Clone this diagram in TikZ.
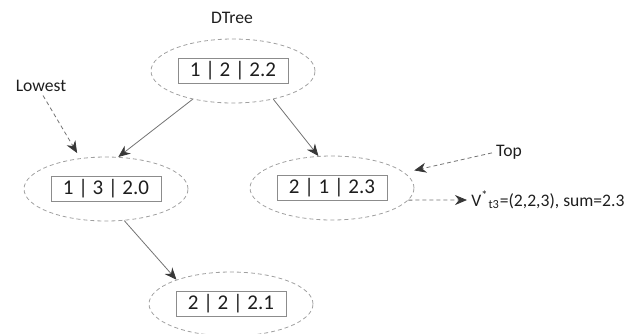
\documentclass[tikz,border=0pt]{standalone}
\usepackage{fontspec}
\setmainfont{Carlito}
\usepackage{xcolor}
\usetikzlibrary{shapes.geometric, arrows.meta, positioning}
\definecolor{dashgray}{RGB}{160,160,160}
\definecolor{boxgray}{RGB}{140,140,140}
\definecolor{linegray}{RGB}{115,115,115}
\definecolor{tipgray}{RGB}{55,55,55}
\definecolor{inkgray}{RGB}{30,30,30}
\tikzstyle{group} = [ellipse, draw=dashgray, dash pattern=on 2pt off 1.5pt, minimum width=82pt, minimum height=32pt, inner sep=0pt]
\tikzstyle{entry} = [rectangle, draw=boxgray, fill=white, minimum width=55pt, minimum height=12.5pt, inner sep=0pt, text=inkgray, font=\fontsize{10.5}{12}\selectfont]
\tikzstyle{note} = [inner sep=0pt, text=inkgray, font=\fontsize{8.8}{10}\selectfont]
\tikzstyle{arrow} = [linegray, -{Stealth[length=6pt,width=5pt,color=tipgray]}]
\tikzstyle{hint} = [arrow, dash pattern=on 2pt off 1.5pt]

\begin{document}
\begin{tikzpicture}[x=0.5pt, y=-0.5pt]
		\useasboundingbox (0,0) rectangle (638,333);
		\node (root) [group] at (233,71) {};
		\node (left) [group] at (106,189) {};
		\node (right) [group] at (332,188) {};
		\node (leaf) [group] at (231,304) {};
		\node (rootkey) [entry] at (root) {1 | 2 | 2.2};
		\node (leftkey) [entry] at (left) {1 | 3 | 2.0};
		\node (rightkey) [entry] at (right) {2 | 1 | 2.3};
		\node (leafkey) [entry] at (leaf) {2 | 2 | 2.1};
		\node (title) [note] at (232,18) {DTree};
		\node (lowest) [note] at (41,86) {Lowest};
		\node (top) [note] at (509,152) {Top};
		\node (result) [note, anchor=west] at (471,200) {V\textsuperscript{*}\textsubscript{t3}=(2,2,3), sum=2.3};
		
		\draw [arrow] (root.215) -- (left.69);
		\draw [arrow] (root.-35) -- (right.113);
		\draw [arrow] (left.-60) -- (leaf.156);
		\draw [hint, shorten <=2pt, shorten >=3pt] (lowest.south) -- (left.130);
		\draw [hint, shorten <=2pt, shorten >=5pt] (top.west) -- (right.12);
		\draw [hint, shorten >=2pt] (right.-9) -- (result.west);
	\end{tikzpicture}
\end{document}
